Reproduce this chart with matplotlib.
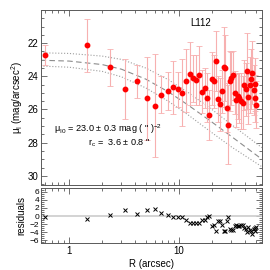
import numpy as np
import matplotlib
matplotlib.use('Agg')
import matplotlib.pyplot as plt
from matplotlib.ticker import MultipleLocator, LogLocator, NullFormatter, FixedLocator

plt.rcParams['font.family'] = ['Liberation Sans', 'DejaVu Sans']
plt.rcParams['mathtext.fontset'] = 'custom'
plt.rcParams['mathtext.rm'] = 'Liberation Sans'
plt.rcParams['mathtext.it'] = 'Liberation Sans:italic'

# surface brightness profile
R = [0.609, 1.449, 2.36, 3.23, 4.18, 5.12, 6.01, 6.93, 7.91, 8.88,
     9.76, 10.76, 11.58, 12.59, 13.46, 14.33, 15.3, 16.25, 17.23, 18.08,
     19.0, 20.0, 20.9, 21.8, 22.8, 23.7, 24.6, 25.5, 26.5, 27.4,
     28.3, 29.4, 30.1, 31.0, 32.3, 33.3, 34.5, 35.6, 36.8, 38.0,
     39.4, 40.5, 41.5, 42.7, 44.0, 45.3, 46.5, 47.8, 49.1, 49.6, 50.7]
mu = [22.71, 22.14, 23.46, 24.77, 24.29, 25.31, 25.77, 25.10, 24.86, 24.65,
      24.77, 24.98, 24.27, 23.85, 24.12, 24.21, 23.95, 24.94, 24.68, 25.28,
      26.34, 24.15, 24.29, 23.08, 25.38, 25.68, 24.90, 23.45, 23.51, 25.88,
      26.91, 24.27, 24.13, 23.95, 24.98, 25.44, 25.18, 25.32, 25.48, 25.59,
      24.54, 24.77, 23.67, 25.27, 24.53, 24.16, 23.77, 24.82, 25.33, 24.47, 25.70]
mu_err = [0.62, 1.6, 1.1, 1.8, 1.0, 2.5, 3.1, 1.1, 1.15, 1.6,
          1.05, 2.0, 1.9, 1.9, 1.4, 1.5, 1.8, 1.3, 1.2, 1.5,
          1.5, 1.6, 1.6, 1.8, 1.4, 1.6, 1.3, 2.4, 2.0, 1.5,
          2.4, 1.8, 1.6, 1.5, 1.3, 1.6, 1.4, 1.5, 1.7, 1.6,
          1.5, 1.6, 2.3, 1.6, 1.7, 1.8, 1.9, 1.5, 1.4, 1.6, 1.4]
resid = [-0.15, -0.7, 0.33, 1.45, 0.58, 1.55, 1.75, 0.65, 0.2, -0.15,
         -0.15, -0.15, -0.96, -1.75, -1.6, -1.6, -1.75, -0.96, -1.03, -0.15,
         0.05, -2.47, -2.23, -3.6, -1.2, -1.3, -2.23, -3.6, -3.6, -1.2,
         -0.15, -3.2, -3.4, -3.5, -2.4, -2.1, -2.4, -2.4, -2.3, -2.3,
         -3.0, -3.1, -4.0, -2.7, -3.4, -3.6, -4.4, -3.2, -2.9, -3.8, -2.8]

# fitted profile and its envelope
R_fit = [0.55, 1.0, 2.0, 3.0, 5.0, 8.0, 12.0, 20.0, 30.0, 57.0]
mu_fit = [23.03, 23.08, 23.29, 23.57, 24.17, 24.93, 25.71, 26.76, 27.62, 29.0]
mu_hi = [22.58, 22.62, 22.78, 22.98, 23.50, 24.20, 24.95, 26.00, 26.90, 28.30]
mu_lo = [23.38, 23.45, 23.70, 24.03, 24.70, 25.50, 26.30, 27.40, 28.25, 29.45]

fig = plt.figure(figsize=(2.7, 2.7), dpi=100)
ax = fig.add_axes([0.152, 0.315, 0.818, 0.648])
ax2 = fig.add_axes([0.152, 0.099, 0.818, 0.205], sharex=ax)

ax.plot(R_fit, mu_fit, ls=(0, (5, 3)), color='0.55', lw=0.8)
ax.plot(R_fit, mu_hi, ls=':', color='0.62', lw=0.8)
ax.plot(R_fit, mu_lo, ls=':', color='0.62', lw=0.8)
ax.errorbar(R, mu, yerr=mu_err, fmt='none', ecolor='#f7b0b0', elinewidth=0.8,
            capsize=2, capthick=0.6)
ax.plot(R, mu, 'o', color='red', ms=3.2, mec='red')

ax.set_xscale('log')
ax.set_xlim(0.556, 57)
ax.set_ylim(30.55, 20.0)
ax.yaxis.set_major_locator(FixedLocator([22, 24, 26, 28, 30]))
ax.yaxis.set_minor_locator(MultipleLocator(0.5))
ax.set_ylabel('μ$_{\\rm I}$ (mag/arcsec$^2$)', fontsize=7, labelpad=2)
plt.setp(ax.get_xticklabels(), visible=False)

ax.text(0.675, 0.91, 'L112', transform=ax.transAxes, fontsize=7)
ax.text(0.06, 0.305, 'μ$_{\\rm I0}$ = 23.0 ± 0.3 mag ( " )$^{-2}$',
        transform=ax.transAxes, fontsize=6.6)
ax.text(0.495, 0.225, 'r$_{\\rm c}$ =  3.6 ± 0.8 "', transform=ax.transAxes,
        fontsize=6.6, ha='right')

ax2.axhline(0, color='0.8', lw=1.2)
ax2.plot(R, resid, 'x', color='black', ms=2.4, mew=0.7)
ax2.set_ylim(-6.7, 6.9)
ax2.yaxis.set_major_locator(FixedLocator([-6, -4, -2, 0, 2, 4, 6]))
ax2.yaxis.set_minor_locator(MultipleLocator(0.5))
ax2.set_ylabel('residuals', fontsize=7, labelpad=2)
ax2.set_xlabel('R (arcsec)', fontsize=7, labelpad=2)
ax2.xaxis.set_major_locator(LogLocator(base=10))
ax2.xaxis.set_minor_locator(LogLocator(base=10, subs=np.arange(2, 10)))
ax2.xaxis.set_minor_formatter(NullFormatter())
ax2.set_xticks([1, 10])
ax2.set_xticklabels(['1', '10'])

for a in (ax, ax2):
    for s in a.spines.values():
        s.set_color('0.35')
        s.set_linewidth(0.7)
    a.tick_params(which='both', direction='in', top=True, right=True,
                  color='0.35', width=0.6, labelsize=7, pad=2)
    a.tick_params(which='major', length=4)
    a.tick_params(which='minor', length=2)
ax2.tick_params(axis='y', labelsize=6, pad=1.5)

fig.savefig('out.png', dpi=100)
